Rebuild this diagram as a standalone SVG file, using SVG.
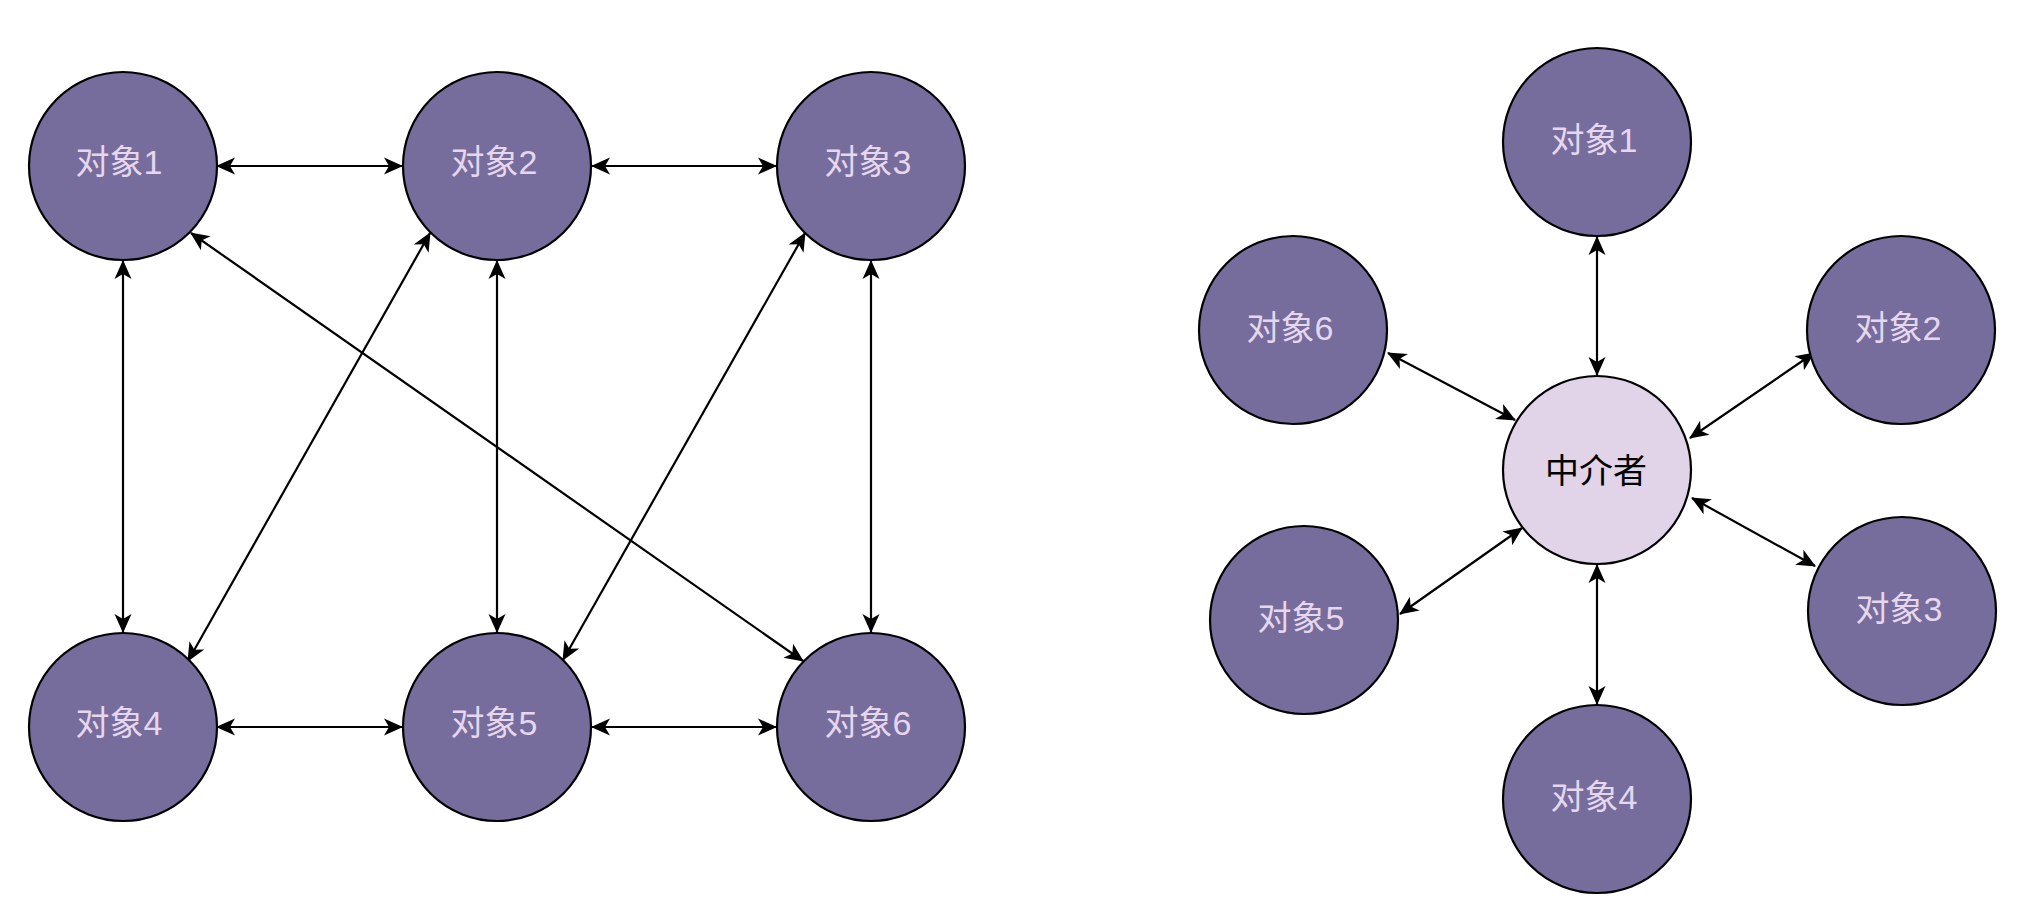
<svg xmlns="http://www.w3.org/2000/svg" width="2028" height="906" viewBox="0 0 2028 906">
<style>
.obj circle{fill:#766D9C;stroke:#000;stroke-width:2.2}
.med circle{fill:#E1D3E8;stroke:#000;stroke-width:2.2}
.obj text{fill:#E6D6EE;font-family:"Liberation Sans","Noto Sans CJK SC",sans-serif;font-size:34px;text-anchor:middle;dominant-baseline:central}
.med text{fill:#000;font-family:"Liberation Sans","Noto Sans CJK SC",sans-serif;font-size:34px;text-anchor:middle;dominant-baseline:central}
.edges path{fill:none;stroke:#000;stroke-width:2.2;marker-start:url(#arr);marker-end:url(#arr)}
</style>
<defs>
<marker id="arr" markerUnits="userSpaceOnUse" viewBox="-20 -10 22 20" markerWidth="22" markerHeight="20" refX="0" refY="0" orient="auto-start-reverse">
<path d="M1,0 L-18,-8.5 L-13,0 L-18,8.5 Z" fill="#000"/>
</marker>
</defs>
<rect width="2028" height="906" fill="#fff"/>
<g class="edges" id="connectors">
<path d="M217,166 L402,166"/>
<path d="M592,166 L776,166"/>
<path d="M217,727 L402,727"/>
<path d="M592,727 L776,727"/>
<path d="M123,261 L123,632"/>
<path d="M497,261 L497,632"/>
<path d="M871,261 L871,632"/>
<path d="M191,233 L803,661"/>
<path d="M430,233 L188,661"/>
<path d="M805,233 L563,660"/>
<path d="M1597,237 L1597,375"/>
<path d="M1597,565 L1597,704"/>
<path d="M1388,353 L1515,420"/>
<path d="M1814,353 L1690,438"/>
<path d="M1692,498 L1815,566"/>
<path d="M1522,528 L1400,614"/>
</g>
<g class="obj" id="L1"><circle cx="123" cy="166" r="94"/><text x="119" y="162">对象1</text></g>
<g class="obj" id="L2"><circle cx="497" cy="166" r="94"/><text x="494" y="162">对象2</text></g>
<g class="obj" id="L3"><circle cx="871" cy="166" r="94"/><text x="868" y="162">对象3</text></g>
<g class="obj" id="L4"><circle cx="123" cy="727" r="94"/><text x="119" y="723">对象4</text></g>
<g class="obj" id="L5"><circle cx="497" cy="727" r="94"/><text x="494" y="723">对象5</text></g>
<g class="obj" id="L6"><circle cx="871" cy="727" r="94"/><text x="868" y="723">对象6</text></g>
<g class="obj" id="R1"><circle cx="1597" cy="142" r="94"/><text x="1594" y="140">对象1</text></g>
<g class="obj" id="R2"><circle cx="1901" cy="330" r="94"/><text x="1898" y="328">对象2</text></g>
<g class="obj" id="R3"><circle cx="1902" cy="611" r="94"/><text x="1899" y="609">对象3</text></g>
<g class="obj" id="R4"><circle cx="1597" cy="799" r="94"/><text x="1594" y="797">对象4</text></g>
<g class="obj" id="R5"><circle cx="1304" cy="620" r="94"/><text x="1301" y="618">对象5</text></g>
<g class="obj" id="R6"><circle cx="1293" cy="330" r="94"/><text x="1290" y="328">对象6</text></g>
<g class="med" id="mediator"><circle cx="1597" cy="470" r="94"/><text x="1596" y="471">中介者</text></g>
</svg>
